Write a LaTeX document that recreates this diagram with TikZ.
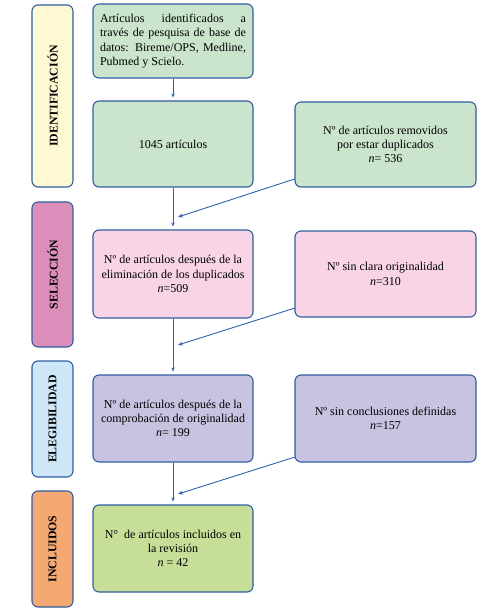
\documentclass[tikz,border=0pt]{standalone}
\usepackage{fontspec}
\setmainfont{Liberation Serif}
\usetikzlibrary{arrows.meta}
\definecolor{bordc}{HTML}{2F5D9E}
\definecolor{arrc}{HTML}{2E63AE}
\definecolor{labyellow}{HTML}{FEF9D3}
\definecolor{labpink}{HTML}{DB8EBA}
\definecolor{labblue}{HTML}{CDE6F8}
\definecolor{laborange}{HTML}{F4A973}
\definecolor{boxgreen}{HTML}{CBE4CC}
\definecolor{boxpink}{HTML}{F8D4E6}
\definecolor{boxpurple}{HTML}{C9C2E1}
\definecolor{boxlime}{HTML}{C6DE98}
\tikzset{
  base/.style={draw=bordc, line width=1.1pt, rounded corners=6pt, inner sep=2pt,
    font=\fontsize{12}{14.3}\selectfont, text=black},
  sidelab/.style={base, rotate=90, minimum height=41pt, font=\fontsize{11.8}{14}\selectfont\bfseries},
  mainbox/.style={base, minimum width=160pt},
  sidebox/.style={base, minimum width=181pt},
  flow/.style={draw=arrc, line width=0.9pt, -{Stealth[length=4pt,width=3.5pt]}, shorten >=3pt},
  diag/.style={draw=arrc, line width=0.9pt, -{Stealth[length=5pt,width=4pt]}}
}
\begin{document}
\begin{tikzpicture}[x=1pt,y=-1pt]
\useasboundingbox (0,0) rectangle (486,612);
% side labels
\node[sidelab, fill=labyellow, minimum width=182pt] (L1) at (52.5,96) {IDENTIFICACIÓN};
\node[sidelab, fill=labpink, minimum width=145pt] (L2) at (52.5,274.5) {SELECCIÓN};
\node[sidelab, fill=labblue, minimum width=116pt] (L3) at (52.5,419) {ELEGIBILIDAD};
\node[sidelab, fill=laborange, minimum width=116pt] (L4) at (52.5,549) {INCLUIDOS};
% main column
\node[mainbox, fill=boxgreen, minimum height=74pt, text width=146pt, align=justify] (B1) at (173,41)
  {Artículos identificados a través de pesquisa de base de datos: Bireme/OPS, Medline, Pubmed y Scielo.};
\node[mainbox, fill=boxgreen, minimum height=86pt] (B2) at (173,144) {1045 artículos};
\node[mainbox, fill=boxpink, minimum height=88pt, align=center] (B3) at (173,274)
  {Nº de artículos después de la\\eliminación de los duplicados\\\textit{n}=509};
\node[mainbox, fill=boxpurple, minimum height=87pt, align=center] (B4) at (173,418.5)
  {Nº de artículos después de la\\comprobación de originalidad\\\textit{n}= 199};
\node[mainbox, fill=boxlime, minimum height=87pt, align=center] (B5) at (173,548.5)
  {N°\ \ de artículos incluidos en\\la revisión\\\textit{n} = 42};
% right column
\node[sidebox, fill=boxgreen, minimum height=85pt, align=center] (R1) at (385.5,144.5)
  {Nº de artículos removidos\\por estar duplicados\\\textit{n}= 536};
\node[sidebox, fill=boxpink, minimum height=86pt, align=center] (R2) at (385.5,274)
  {Nº sin clara originalidad\\\textit{n}=310};
\node[sidebox, fill=boxpurple, minimum height=87pt, align=center] (R3) at (385.5,418.5)
  {Nº sin conclusiones definidas\\\textit{n}=157};
% vertical flow
\draw[flow] (B1) -- (B2);
\draw[flow] (B2) -- (B3);
\draw[flow] (B3) -- (B4);
\draw[flow] (B4) -- (B5);
% diagonal arrows
\coordinate (s1) at (294.5,179);
\coordinate (t1) at (178,217);
\coordinate (s2) at (295,308);
\coordinate (t2) at (178,345);
\coordinate (s3) at (295,457);
\coordinate (t3) at (178,494);
\draw[diag] (s1) -- (t1);
\draw[diag] (s2) -- (t2);
\draw[diag] (s3) -- (t3);
\end{tikzpicture}
\end{document}
